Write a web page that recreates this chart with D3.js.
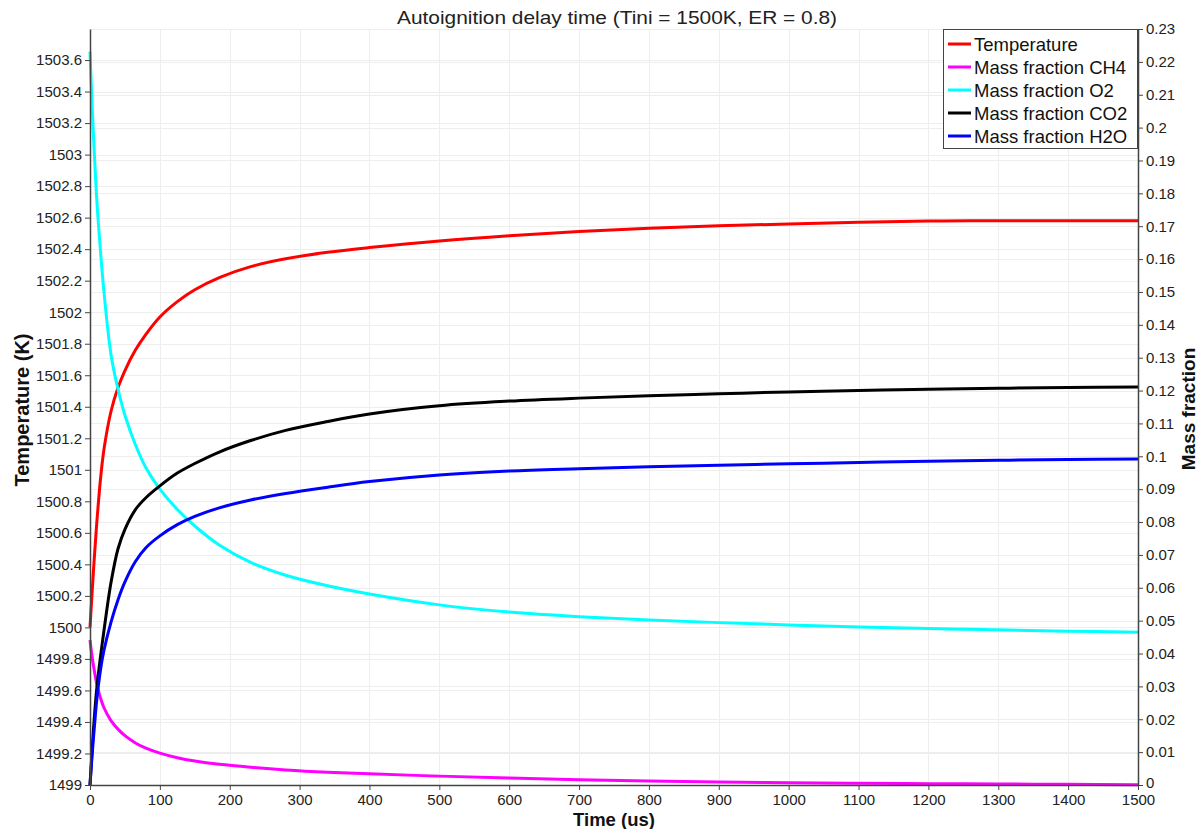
<!DOCTYPE html>
<html>
<head>
<meta charset="utf-8">
<script src="https://cdn.jsdelivr.net/npm/d3@7"></script>
<style>
  html, body { margin: 0; padding: 0; background: #fff; }
  svg { display: block; font-family: "Liberation Sans", Arial, sans-serif; }
</style>
</head>
<body>
<svg id="chart" width="1204" height="829"></svg>
<script>
// ---- Data ----
const time = [0, 3, 6, 10, 15, 20, 30, 40, 50, 65, 80, 100, 125, 150, 185, 230, 280, 340, 400, 500, 600, 700, 800, 900, 1000, 1100, 1200, 1300, 1400, 1500];
const temperature = [1500.00, 1500.22, 1500.43, 1500.68, 1500.94, 1501.13, 1501.37, 1501.52, 1501.63, 1501.76, 1501.86, 1501.97, 1502.0675, 1502.1425, 1502.2195, 1502.289, 1502.339, 1502.38, 1502.41, 1502.452, 1502.485, 1502.512, 1502.532, 1502.548, 1502.56, 1502.57, 1502.578, 1502.58, 1502.58, 1502.58];
const ch4 = [0.0441, 0.0390, 0.0350, 0.0305, 0.0265, 0.0235, 0.0196, 0.0170, 0.0150, 0.0128, 0.0112, 0.0097, 0.0083, 0.0073, 0.0063, 0.0054, 0.0046, 0.0039, 0.0034, 0.0027, 0.0021, 0.0016, 0.0012, 0.0009, 0.0007, 0.0005, 0.0004, 0.0003, 0.0002, 0.0001];
const o2 = [0.2231, 0.2070, 0.1930, 0.1770, 0.1625, 0.1500, 0.1310, 0.1205, 0.1125, 0.1035, 0.0965, 0.0900, 0.0838, 0.0788, 0.0730, 0.0677, 0.0638, 0.0606, 0.0581, 0.0548, 0.0526, 0.0512, 0.0502, 0.0494, 0.0487, 0.0481, 0.0476, 0.0472, 0.0468, 0.0465];
const co2 = [0, 0.0105, 0.0200, 0.0300, 0.0390, 0.0470, 0.0615, 0.0718, 0.0778, 0.0838, 0.0874, 0.0910, 0.0949, 0.0978, 0.1013, 0.1048, 0.1079, 0.1106, 0.1129, 0.1154, 0.1168, 0.1177, 0.1184, 0.1190, 0.1196, 0.1200, 0.1204, 0.1207, 0.1209, 0.1211];
const h2o = [0, 0.0090, 0.0170, 0.0265, 0.0350, 0.0410, 0.0495, 0.0563, 0.0618, 0.0680, 0.0722, 0.0758, 0.0792, 0.0817, 0.0843, 0.0867, 0.0887, 0.0906, 0.0923, 0.0943, 0.0955, 0.0962, 0.0968, 0.0973, 0.0977, 0.0981, 0.0985, 0.0988, 0.0990, 0.0992];

const timeTicks = [0, 100, 200, 300, 400, 500, 600, 700, 800, 900, 1000, 1100, 1200, 1300, 1400, 1500];
const tempTicks = [1499, 1499.2, 1499.4, 1499.6, 1499.8, 1500, 1500.2, 1500.4, 1500.6, 1500.8, 1501, 1501.2, 1501.4, 1501.6, 1501.8, 1502, 1502.2, 1502.4, 1502.6, 1502.8, 1503, 1503.2, 1503.4, 1503.6];
const massTicks = [0, 0.01, 0.02, 0.03, 0.04, 0.05, 0.06, 0.07, 0.08, 0.09, 0.1, 0.11, 0.12, 0.13, 0.14, 0.15, 0.16, 0.17, 0.18, 0.19, 0.2, 0.21, 0.22, 0.23];

const seriesNames = ["Temperature", "Mass fraction CH4", "Mass fraction O2", "Mass fraction CO2", "Mass fraction H2O"];
const seriesColors = ["#ff0000", "#ff00ff", "#00ffff", "#000000", "#0000ff"];

const titleText = "Autoignition delay time (Tini = 1500K, ER = 0.8)";

// ---- Layout ----
const L = 90, R = 1138, T = 29, B = 785;

const svg = d3.select("#chart");

const x = d3.scaleLinear().domain([0, 1500]).range([L, R]);
const yT = d3.scaleLinear().domain([1499, 1503.797]).range([B, T]);
const yM = d3.scaleLinear().domain([0, 0.23]).range([B, T]);

const fmt = v => d3.format("~f")(+v.toFixed(2));

// grid
const grid = svg.append("g").attr("stroke", "#eeeeee").attr("stroke-width", 1);
timeTicks.forEach(t => grid.append("line").attr("x1", Math.round(x(t)) + 0.5).attr("x2", Math.round(x(t)) + 0.5).attr("y1", T).attr("y2", B));
tempTicks.forEach(v => grid.append("line").attr("x1", L).attr("x2", R).attr("y1", Math.round(yT(v)) + 0.5).attr("y2", Math.round(yT(v)) + 0.5));
massTicks.forEach(v => grid.append("line").attr("x1", L).attr("x2", R).attr("y1", Math.round(yM(v)) + 0.5).attr("y2", Math.round(yM(v)) + 0.5));

// series lines
const series = [
  { values: temperature, scale: yT },
  { values: ch4, scale: yM },
  { values: o2, scale: yM },
  { values: co2, scale: yM },
  { values: h2o, scale: yM }
];
const plot = svg.append("g");
series.forEach((s, i) => {
  const line = d3.line()
    .x((d, j) => x(time[j]))
    .y(d => s.scale(d))
    .curve(d3.curveCatmullRom.alpha(0.5));
  plot.append("path")
    .datum(s.values)
    .attr("fill", "none")
    .attr("stroke", seriesColors[i])
    .attr("stroke-width", 3)
    .attr("stroke-linejoin", "round")
    .attr("d", line);
});

// axes
function styleAxis(g) {
  g.selectAll("path").attr("stroke", "#444").attr("stroke-width", 1.5);
  g.selectAll("line").attr("stroke", "#444").attr("stroke-width", 1);
  g.selectAll("text").attr("fill", "#222").attr("font-size", 15).attr("font-family", "Liberation Sans, Arial, sans-serif");
}
svg.append("g")
  .attr("transform", `translate(0,${B})`)
  .call(d3.axisBottom(x).tickValues(timeTicks).tickFormat(d3.format("d")).tickSize(5).tickSizeOuter(0).tickPadding(4))
  .call(styleAxis);
svg.append("g")
  .attr("transform", `translate(${L},0)`)
  .call(d3.axisLeft(yT).tickValues(tempTicks).tickFormat(fmt).tickSize(5).tickSizeOuter(0).tickPadding(3))
  .call(styleAxis);
const rightAxis = svg.append("g")
  .attr("transform", `translate(${R},0)`)
  .call(d3.axisRight(yM).tickValues(massTicks).tickFormat(fmt).tickSize(5).tickSizeOuter(0).tickPadding(3))
  .call(styleAxis);
rightAxis.selectAll(".tick").filter(d => d === 0).select("text").attr("y", -2);

// title & axis labels
svg.append("text")
  .attr("x", 617).attr("y", 24)
  .attr("text-anchor", "middle")
  .attr("font-size", 19).attr("fill", "#222")
  .attr("textLength", 440).attr("lengthAdjust", "spacingAndGlyphs")
  .text(titleText);
svg.append("text")
  .attr("x", 614).attr("y", 825.5)
  .attr("text-anchor", "middle")
  .attr("font-size", 18.5).attr("font-weight", "bold").attr("fill", "#111")
  .text("Time (us)");
svg.append("text")
  .attr("transform", `translate(29,410) rotate(-90)`)
  .attr("text-anchor", "middle")
  .attr("font-size", 20).attr("font-weight", "bold").attr("fill", "#111")
  .text("Temperature (K)");
svg.append("text")
  .attr("transform", `translate(1195,409) rotate(-90)`)
  .attr("text-anchor", "middle")
  .attr("font-size", 19).attr("font-weight", "bold").attr("fill", "#111")
  .text("Mass fraction");

// legend
const lg = svg.append("g");
lg.append("rect")
  .attr("x", 943.5).attr("y", 29.5).attr("width", 194).attr("height", 119)
  .attr("fill", "#fff").attr("stroke", "#444").attr("stroke-width", 1);
seriesNames.forEach((name, i) => {
  const cy = 44 + i * 23;
  lg.append("line")
    .attr("x1", 948).attr("x2", 971).attr("y1", cy).attr("y2", cy)
    .attr("stroke", seriesColors[i]).attr("stroke-width", 3);
  lg.append("text")
    .attr("x", 974).attr("y", cy + 6.5)
    .attr("font-size", 18.5).attr("fill", "#111")
    .text(name);
});
</script>
</body>
</html>
